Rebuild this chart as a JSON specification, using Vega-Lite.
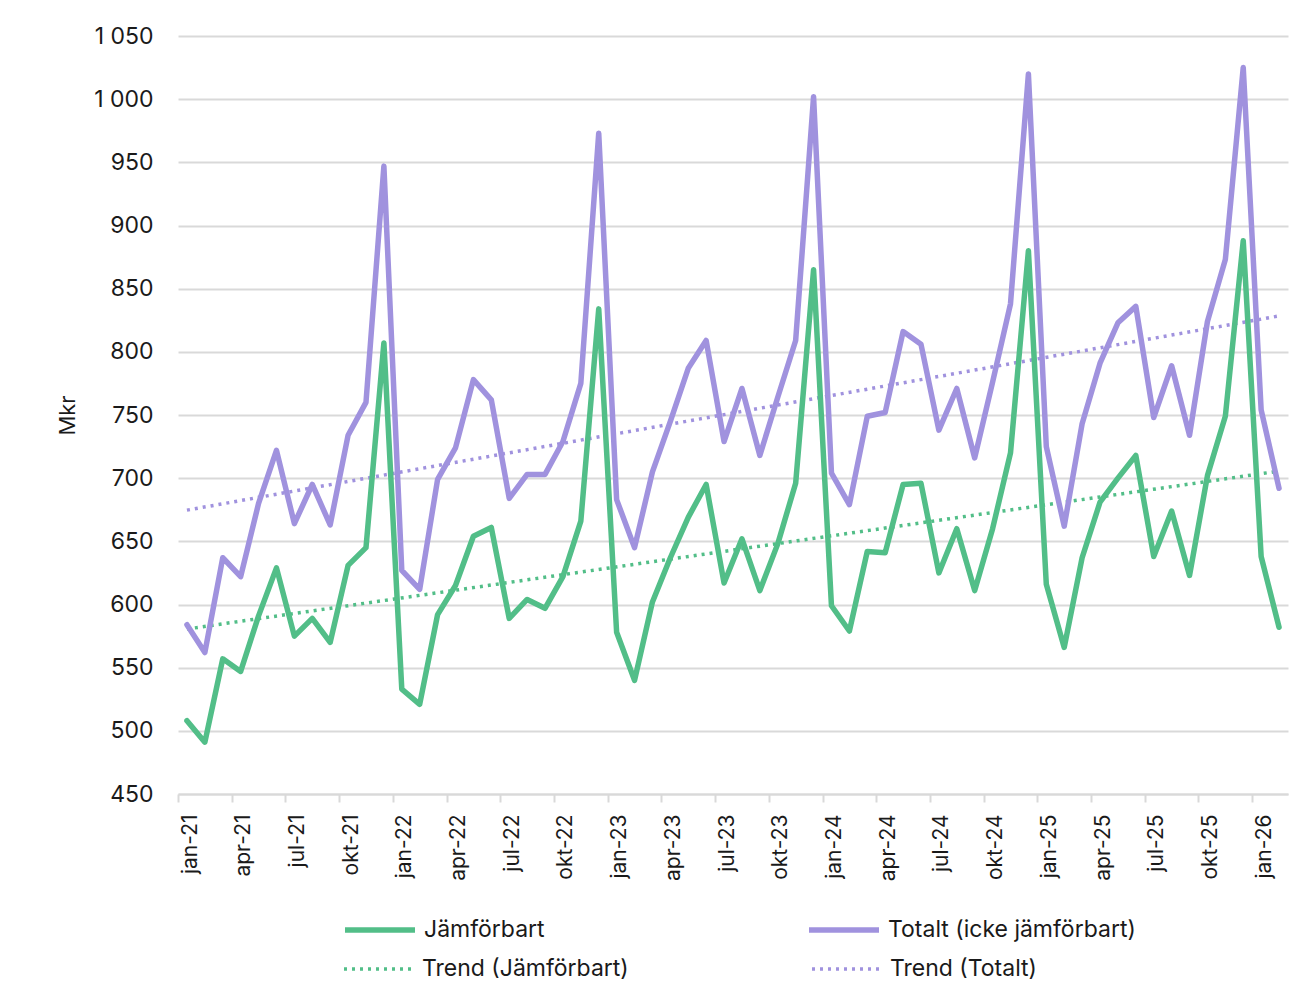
{
  "$schema": "https://vega.github.io/schema/vega-lite/v6.json",
  "width": 1110,
  "height": 758,
  "autosize": {"type": "none"},
  "padding": {"left": 178, "top": 36, "right": 26, "bottom": 193},
  "background": "white",
  "config": {
    "font": "Inter",
    "view": {"stroke": null},
    "axis": {"labelColor": "#1a1a1a", "titleColor": "#1a1a1a", "labelFont": "Inter", "titleFont": "Inter"},
    "legend": {"labelFont": "Inter", "labelColor": "#1a1a1a", "labelFontSize": 23, "labelLimit": 0, "labelOffset": 6, "symbolType": "stroke", "symbolSize": 4900, "title": null}
  },
  "datasets": {
    "monthly": [
      {"m": "jan-21", "Jämförbart": 508, "Totalt (icke jämförbart)": 584},
      {"m": "feb-21", "Jämförbart": 491, "Totalt (icke jämförbart)": 562},
      {"m": "mar-21", "Jämförbart": 557, "Totalt (icke jämförbart)": 637},
      {"m": "apr-21", "Jämförbart": 547, "Totalt (icke jämförbart)": 622},
      {"m": "maj-21", "Jämförbart": 591, "Totalt (icke jämförbart)": 680},
      {"m": "jun-21", "Jämförbart": 629, "Totalt (icke jämförbart)": 722},
      {"m": "jul-21", "Jämförbart": 575, "Totalt (icke jämförbart)": 664},
      {"m": "aug-21", "Jämförbart": 589, "Totalt (icke jämförbart)": 695},
      {"m": "sep-21", "Jämförbart": 570, "Totalt (icke jämförbart)": 663},
      {"m": "okt-21", "Jämförbart": 631, "Totalt (icke jämförbart)": 734},
      {"m": "nov-21", "Jämförbart": 645, "Totalt (icke jämförbart)": 760},
      {"m": "dec-21", "Jämförbart": 807, "Totalt (icke jämförbart)": 947},
      {"m": "jan-22", "Jämförbart": 533, "Totalt (icke jämförbart)": 627},
      {"m": "feb-22", "Jämförbart": 521, "Totalt (icke jämförbart)": 612},
      {"m": "mar-22", "Jämförbart": 592, "Totalt (icke jämförbart)": 699},
      {"m": "apr-22", "Jämförbart": 615, "Totalt (icke jämförbart)": 724},
      {"m": "maj-22", "Jämförbart": 654, "Totalt (icke jämförbart)": 778},
      {"m": "jun-22", "Jämförbart": 661, "Totalt (icke jämförbart)": 762},
      {"m": "jul-22", "Jämförbart": 589, "Totalt (icke jämförbart)": 684},
      {"m": "aug-22", "Jämförbart": 604, "Totalt (icke jämförbart)": 703},
      {"m": "sep-22", "Jämförbart": 597, "Totalt (icke jämförbart)": 703},
      {"m": "okt-22", "Jämförbart": 622, "Totalt (icke jämförbart)": 729},
      {"m": "nov-22", "Jämförbart": 666, "Totalt (icke jämförbart)": 775},
      {"m": "dec-22", "Jämförbart": 834, "Totalt (icke jämförbart)": 973},
      {"m": "jan-23", "Jämförbart": 578, "Totalt (icke jämförbart)": 683},
      {"m": "feb-23", "Jämförbart": 540, "Totalt (icke jämförbart)": 645},
      {"m": "mar-23", "Jämförbart": 602, "Totalt (icke jämförbart)": 705},
      {"m": "apr-23", "Jämförbart": 637, "Totalt (icke jämförbart)": 745},
      {"m": "maj-23", "Jämförbart": 669, "Totalt (icke jämförbart)": 787},
      {"m": "jun-23", "Jämförbart": 695, "Totalt (icke jämförbart)": 809},
      {"m": "jul-23", "Jämförbart": 617, "Totalt (icke jämförbart)": 729},
      {"m": "aug-23", "Jämförbart": 652, "Totalt (icke jämförbart)": 771},
      {"m": "sep-23", "Jämförbart": 611, "Totalt (icke jämförbart)": 718},
      {"m": "okt-23", "Jämförbart": 648, "Totalt (icke jämförbart)": 764},
      {"m": "nov-23", "Jämförbart": 696, "Totalt (icke jämförbart)": 809},
      {"m": "dec-23", "Jämförbart": 865, "Totalt (icke jämförbart)": 1002},
      {"m": "jan-24", "Jämförbart": 599, "Totalt (icke jämförbart)": 704},
      {"m": "feb-24", "Jämförbart": 579, "Totalt (icke jämförbart)": 679},
      {"m": "mar-24", "Jämförbart": 642, "Totalt (icke jämförbart)": 749},
      {"m": "apr-24", "Jämförbart": 641, "Totalt (icke jämförbart)": 752},
      {"m": "maj-24", "Jämförbart": 695, "Totalt (icke jämförbart)": 816},
      {"m": "jun-24", "Jämförbart": 696, "Totalt (icke jämförbart)": 806},
      {"m": "jul-24", "Jämförbart": 625, "Totalt (icke jämförbart)": 738},
      {"m": "aug-24", "Jämförbart": 660, "Totalt (icke jämförbart)": 771},
      {"m": "sep-24", "Jämförbart": 611, "Totalt (icke jämförbart)": 716},
      {"m": "okt-24", "Jämförbart": 660, "Totalt (icke jämförbart)": 776},
      {"m": "nov-24", "Jämförbart": 720, "Totalt (icke jämförbart)": 838},
      {"m": "dec-24", "Jämförbart": 880, "Totalt (icke jämförbart)": 1020},
      {"m": "jan-25", "Jämförbart": 616, "Totalt (icke jämförbart)": 725},
      {"m": "feb-25", "Jämförbart": 566, "Totalt (icke jämförbart)": 662},
      {"m": "mar-25", "Jämförbart": 637, "Totalt (icke jämförbart)": 743},
      {"m": "apr-25", "Jämförbart": 681, "Totalt (icke jämförbart)": 791},
      {"m": "maj-25", "Jämförbart": 700, "Totalt (icke jämförbart)": 823},
      {"m": "jun-25", "Jämförbart": 718, "Totalt (icke jämförbart)": 836},
      {"m": "jul-25", "Jämförbart": 638, "Totalt (icke jämförbart)": 748},
      {"m": "aug-25", "Jämförbart": 674, "Totalt (icke jämförbart)": 789},
      {"m": "sep-25", "Jämförbart": 623, "Totalt (icke jämförbart)": 734},
      {"m": "okt-25", "Jämförbart": 702, "Totalt (icke jämförbart)": 824},
      {"m": "nov-25", "Jämförbart": 749, "Totalt (icke jämförbart)": 873},
      {"m": "dec-25", "Jämförbart": 888, "Totalt (icke jämförbart)": 1025},
      {"m": "jan-26", "Jämförbart": 638, "Totalt (icke jämförbart)": 754},
      {"m": "feb-26", "Jämförbart": 582, "Totalt (icke jämförbart)": 692}
    ],
    "trend": [
      {"m": "jan-21", "series": "Trend (Jämförbart)", "value": 580.6},
      {"m": "feb-26", "series": "Trend (Jämförbart)", "value": 705.6},
      {"m": "jan-21", "series": "Trend (Totalt)", "value": 674.7},
      {"m": "feb-26", "series": "Trend (Totalt)", "value": 828.4}
    ]
  },
  "encoding": {
    "x": {
      "field": "m",
      "type": "ordinal",
      "scale": {
        "type": "band",
        "paddingInner": 0,
        "paddingOuter": 0,
        "domain": ["jan-21","feb-21","mar-21","apr-21","maj-21","jun-21","jul-21","aug-21","sep-21","okt-21","nov-21","dec-21","jan-22","feb-22","mar-22","apr-22","maj-22","jun-22","jul-22","aug-22","sep-22","okt-22","nov-22","dec-22","jan-23","feb-23","mar-23","apr-23","maj-23","jun-23","jul-23","aug-23","sep-23","okt-23","nov-23","dec-23","jan-24","feb-24","mar-24","apr-24","maj-24","jun-24","jul-24","aug-24","sep-24","okt-24","nov-24","dec-24","jan-25","feb-25","mar-25","apr-25","maj-25","jun-25","jul-25","aug-25","sep-25","okt-25","nov-25","dec-25","jan-26","feb-26"]
      },
      "axis": {
        "title": null,
        "values": ["jan-21","apr-21","jul-21","okt-21","jan-22","apr-22","jul-22","okt-22","jan-23","apr-23","jul-23","okt-23","jan-24","apr-24","jul-24","okt-24","jan-25","apr-25","jul-25","okt-25","jan-26"],
        "tickBand": "center",
        "tickOffset": -8.95,
        "labelOffset": 12,
        "labelAngle": -90,
        "labelAlign": "right",
        "labelBaseline": "middle",
        "labelFontSize": 21,
        "labelPadding": 12,
        "tickSize": 8,
        "tickColor": "#d9d9d9",
        "tickWidth": 2,
        "domainColor": "#d9d9d9",
        "domainWidth": 2,
        "grid": false
      }
    },
    "y": {
      "field": "value",
      "type": "quantitative",
      "scale": {"domain": [450, 1050], "nice": false, "zero": false},
      "axis": {
        "title": "Mkr",
        "titleFontSize": 22,
        "titleFontWeight": "normal",
        "titlePadding": 14,
        "values": [450,500,550,600,650,700,750,800,850,900,950,1000,1050],
        "labelExpr": "replace(format(datum.value, ','), ',', ' ')",
        "labelFontSize": 23,
        "labelPadding": 25,
        "ticks": false,
        "domain": false,
        "grid": true,
        "gridColor": "#d9d9d9",
        "gridWidth": 2
      }
    }
  },
  "layer": [
    {
      "data": {"name": "trend"},
      "mark": {"type": "line", "strokeCap": "butt", "strokeDash": [3, 5], "strokeWidth": 3.5},
      "encoding": {
        "color": {
          "field": "series",
          "type": "nominal",
          "scale": {"domain": ["Trend (Jämförbart)", "Trend (Totalt)"], "range": ["#52be88", "#a092de"]},
          "legend": {
            "orient": "none",
            "legendX": 164,
            "legendY": 896,
            "direction": "horizontal",
            "symbolDash": [3, 5],
            "symbolStrokeWidth": 3.5,
            "columnPadding": 176
          }
        }
      }
    },
    {
      "data": {"name": "monthly"},
      "transform": [{"fold": ["Jämförbart", "Totalt (icke jämförbart)"], "as": ["series", "value"]}],
      "mark": {"type": "line", "strokeCap": "round", "strokeJoin": "round", "strokeWidth": 5.5},
      "encoding": {
        "color": {
          "field": "series",
          "type": "nominal",
          "scale": {"domain": ["Jämförbart", "Totalt (icke jämförbart)"], "range": ["#52be88", "#a092de"]},
          "legend": {
            "orient": "none",
            "legendX": 164,
            "legendY": 856,
            "direction": "horizontal",
            "symbolStrokeWidth": 5.5,
            "columnPadding": 253
          }
        }
      }
    }
  ],
  "resolve": {"scale": {"color": "independent"}}
}
